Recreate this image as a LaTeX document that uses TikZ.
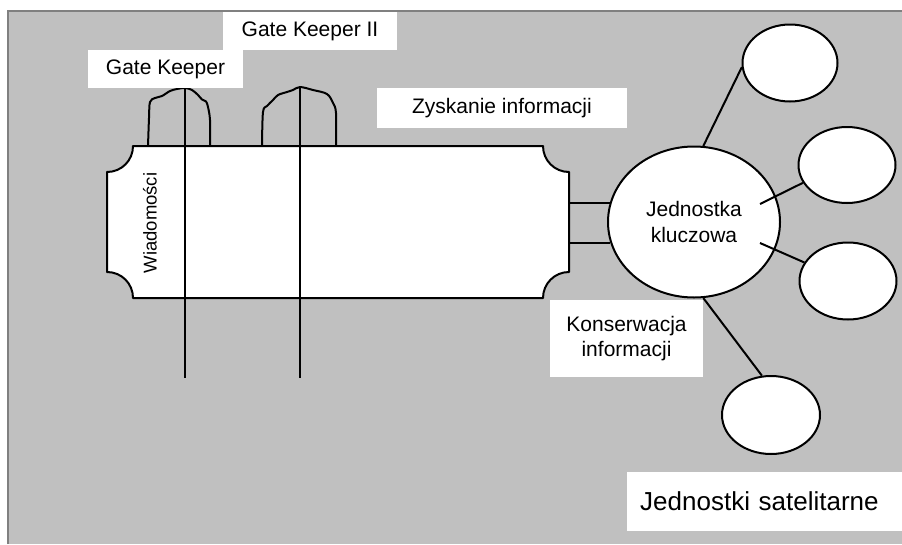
\documentclass[tikz,border=0pt]{standalone}
\usepackage{fontspec}
\setmainfont{Liberation Sans}
\usetikzlibrary{shapes.geometric}
\definecolor{panelgray}{HTML}{C0C0C0}
\definecolor{framegray}{HTML}{808080}
\begin{document}
\begin{tikzpicture}[x=1pt,y=-1pt,
  ink/.style={line width=2pt, black, line join=round},
  tag/.style={fill=white, inner sep=0pt, align=center, font=\fontsize{21}{25}\selectfont},
  sat/.style={ellipse, draw, ink, fill=white, inner sep=0pt}]
\useasboundingbox (0,0) rectangle (902,544);

% panel
\fill[panelgray] (7,10) rectangle (902,544);
\draw[framegray, line width=2.5pt] (8.2,544) -- (8.2,11.2) -- (902,11.2);

% message strip with scalloped corners
\draw[ink, fill=white]
  (133,146) -- (543,146)
  .. controls (543,160.4) and (554.6,172) .. (569,172)
  -- (569,272)
  .. controls (554.6,272) and (543,283.6) .. (543,298)
  -- (133,298)
  .. controls (133,283.6) and (121.6,272) .. (107,272)
  -- (107,172)
  .. controls (121.6,172) and (133,160.4) .. (133,146) -- cycle;

% gate keeper arches
\draw[ink] plot[smooth, tension=0.55] coordinates {(148,146) (149,118) (150,102) (155,98) (162,96) (170,91) (177,89) (185,88) (192,90) (198,95) (202,99.5) (206,101.5) (208,107) (210,120) (210,146)};
\draw[ink] plot[smooth, tension=0.55] coordinates {(262,146) (263,112) (267,106) (273,100) (278,95) (287,92) (293,90) (300,87) (313,90) (327,94) (333,103) (336,113) (336,146)};

% gate keeper poles
\coordinate (p1t) at (185,88);
\coordinate (p1b) at (185,378);
\coordinate (p2t) at (300,87);
\coordinate (p2b) at (300,378);
\draw[ink] (p1t) -- (p1b);
\draw[ink] (p2t) -- (p2b);

% captions
\node[tag, minimum width=155pt, minimum height=38pt] (gk1) at (165.5,69) {Gate Keeper};
\node[tag, minimum width=174pt, minimum height=38pt] (gk2) at (310,31) {Gate Keeper II};
\node[tag, minimum width=250pt, minimum height=40pt] (gain) at (502,108) {Zyskanie informacji};
\node[rotate=90, inner sep=0pt, font=\fontsize{18.5}{22}\selectfont] (news) at (150,223) {Wiadomości};

% key unit and satellites
\node[sat, minimum width=172pt, minimum height=151pt, align=center,
      font=\fontsize{21}{26}\selectfont] (key) at (694,222) {Jednostka\\kluczowa};
\node[sat, minimum width=95pt, minimum height=77pt] (s1) at (790,63) {};
\node[sat, minimum width=97pt, minimum height=76pt] (s2) at (847,165) {};
\node[sat, minimum width=97pt, minimum height=77pt] (s3) at (848,281) {};
\node[sat, minimum width=98pt, minimum height=78pt] (s4) at (771,415) {};

% strip to key unit
\coordinate (port1) at (569,203);
\coordinate (port2) at (569,243);
\draw[ink] (port1) -- (port1 -| key.167);
\draw[ink] (port2) -- (port2 -| key.194);

% key unit to satellites
\coordinate (k2) at (760,204);
\coordinate (k3) at (760,243);
\draw[ink] (key.83) -- (s1.185);
\draw[ink] (k2) -- (s2.202);
\draw[ink] (k3) -- (s3.157);
\draw[ink] (key.-83) -- (s4.103);

\node[tag, minimum width=153pt, minimum height=77pt] (keep) at (626.5,338.5) {Konserwacja\\informacji};
\node[fill=white, inner ysep=0pt, inner xsep=13pt, text width=249pt, align=left,
      minimum height=59pt, anchor=west, font=\fontsize{26}{30}\selectfont] (sats) at (627,501.5) {Jednostki satelitarne};
\end{tikzpicture}
\end{document}
